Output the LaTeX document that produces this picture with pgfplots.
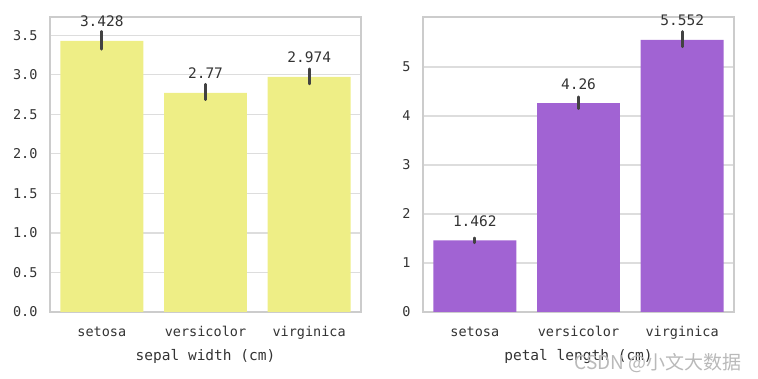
\documentclass[border=0pt]{standalone}
\usepackage{pgfplots}
\pgfplotsset{compat=1.18}
\usepackage{fontspec}
\setmainfont{DejaVu Sans Mono}
\newfontfamily\cjk{Noto Sans CJK SC}
\definecolor{baryel}{RGB}{238,238,134}
\definecolor{barpur}{RGB}{161,99,211}
\definecolor{gridc}{RGB}{221,221,221}
\definecolor{spinec}{RGB}{204,204,204}
\definecolor{txt}{RGB}{51,51,51}
\definecolor{errc}{RGB}{66,66,66}
\pgfplotsset{
 common/.style={
  scale only axis, width=311pt, height=295pt, anchor=south west,
  /pgf/number format/assume math mode=true,
  xmin=-0.5, xmax=2.5, ymin=0,
  xtick={0,1,2}, xticklabels={setosa,versicolor,virginica},
  ymajorgrids, major grid style={gridc, line width=1.3pt},
  axis line style={spinec, line width=1.5pt},
  major tick length=0pt,
  tick label style={font=\fontsize{13.5}{13.5}\selectfont, text=txt},
  xticklabel style={yshift=-11pt},
  yticklabel style={xshift=-9pt},
  xlabel style={font=\fontsize{14.5}{14.5}\selectfont, text=txt, yshift=-3pt},
  ybar, bar width=0.8, bar shift=0pt,
  nodes near coords={\pgfmathprintnumber[fixed,precision=3]{\pgfplotspointmeta}},
  every node near coord/.append style={anchor=base, inner sep=0pt, yshift=14pt, font=\fontsize{14.5}{14.5}\selectfont, text=txt},
 },
 errs/.style={error bars/.cd, y dir=both, y explicit, error mark=none,
  error bar style={errc, line width=2.7pt, line cap=round}},
}
\begin{document}
\begin{tikzpicture}
\useasboundingbox (0,0) rectangle (758pt,379pt);
\begin{axis}[common, at={(50pt,67pt)}, ymax=3.73,
  ytick={0,0.5,...,3.5},
  yticklabel={\pgfmathprintnumber[fixed,fixed zerofill,precision=1]{\tick}},
  xlabel={sepal width (cm)}]
\addplot[fill=baryel, draw=none, errs] coordinates {
 (0,3.428) += (0,0.12) -= (0,0.105)
 (1,2.77) += (0,0.11) -= (0,0.085)
 (2,2.974) += (0,0.10) -= (0,0.09)
};
\end{axis}
\begin{axis}[common, at={(423pt,67pt)}, ymax=6.02,
  ytick={0,1,...,5},
  xlabel={petal length (cm)}]
\addplot[fill=barpur, draw=none, errs] coordinates {
 (0,1.462) += (0,0.05) -= (0,0.05)
 (1,4.26) += (0,0.13) -= (0,0.11)
 (2,5.552) += (0,0.17) -= (0,0.14)
};
\end{axis}
\node[anchor=east, inner sep=0pt, text=gray!55, font=\cjk\fontsize{19}{19}\selectfont] at (742pt,16pt) {CSDN @小文大数据};
\end{tikzpicture}
\end{document}
